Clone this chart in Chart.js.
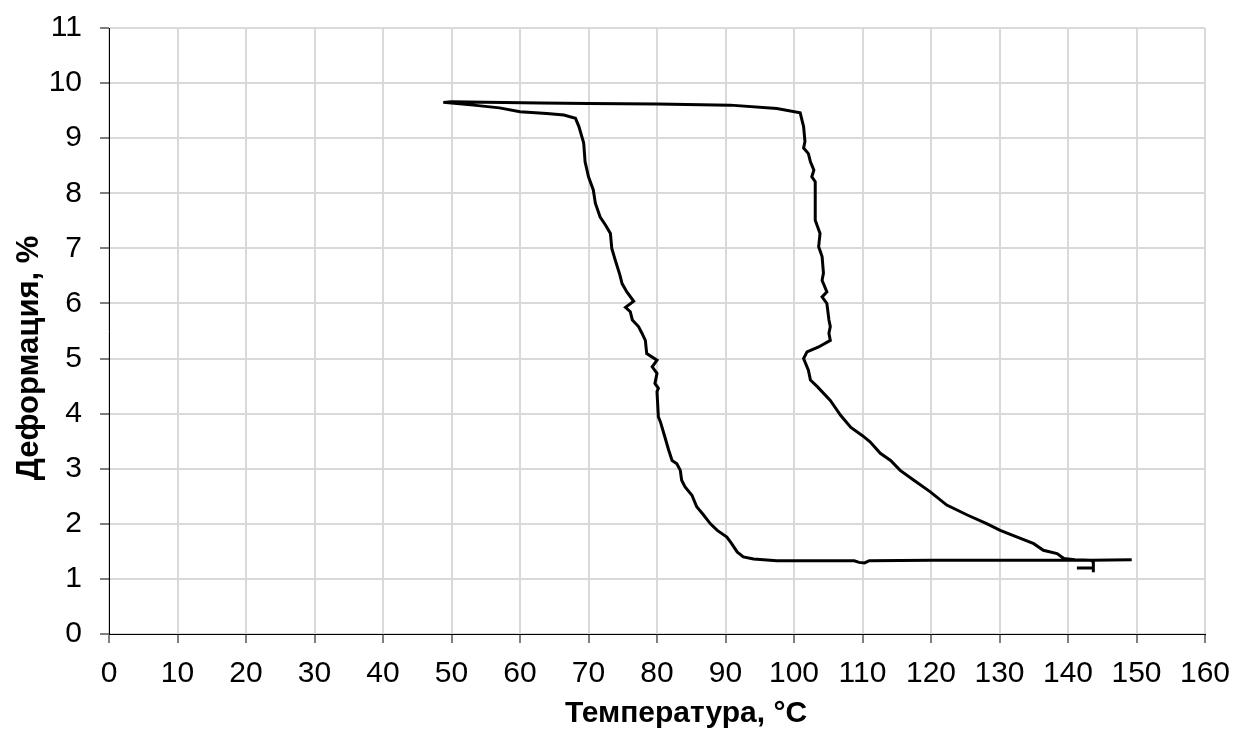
<!DOCTYPE html>
<html>
<head>
<meta charset="utf-8">
<script src="https://cdn.jsdelivr.net/npm/chart.js@4.4.1/dist/chart.umd.min.js"></script>
<style>
    html, body { margin: 0; padding: 0; background: #fff; }
    #wrap { width: 1234px; height: 733px; }
</style>
</head>
<body>
<div id="wrap"><canvas id="loopChart" width="1234" height="733"></canvas></div>
<script>
// Temperature (°C) along the measured loop, in recording order
const tempC = [
    149.3, 143.3, 130, 120, 111, 110.3, 109.5, 108.8, 102.4, 97.5, 94.1, 92.6, 91.7, 90.9, 90.2,
    88.8, 87.8, 86.8, 85.8, 85.1, 84.1, 83.6, 83.4, 82.9, 82.2, 81.7, 81.0, 80.5, 80.2, 80.0,
    80.2, 79.7, 80.0, 79.3, 80.0, 78.5, 78.3, 77.8, 77.3, 76.4, 76.1, 75.4, 76.6, 75.6, 74.9,
    74.6, 73.9, 73.4, 73.2, 72.5, 71.7, 71.0, 70.7, 70.0, 69.5, 69.3, 68.6, 68.1, 66.4, 63.9,
    60, 57, 53.2, 48.8,
    50, 55, 63, 70, 80, 90.7, 97.5, 100.9, 101.4, 101.6, 101.4, 102.1, 102.4, 102.9, 102.6,
    103.1, 103.1, 103.8, 103.6, 104.1, 104.3, 104.1, 104.8, 104.1, 104.8, 105.1, 105.3, 105.1, 105.3,
    103.6, 101.9, 101.4, 102.1, 102.4, 103.4, 105.3, 106.8, 108.3, 110.0, 111.1, 112.6, 114.1, 115.5,
    117.5, 119.9, 122.3, 125.3, 128.2, 130.1, 132.6, 135.0, 136.4, 138.4, 139.4, 141, 143.3,
    143.7, 143.7, 141.3, 143.7, 143.7
];

// Deformation (%) matching tempC
const strainPct = [
    1.35, 1.34, 1.34, 1.34, 1.33, 1.29, 1.30, 1.33, 1.33, 1.33, 1.36, 1.40, 1.49, 1.64, 1.76,
    1.88, 2.00, 2.16, 2.31, 2.52, 2.67, 2.79, 2.97, 3.09, 3.15, 3.34, 3.64, 3.85, 3.94, 4.40,
    4.46, 4.55, 4.73, 4.85, 4.97, 5.09, 5.33, 5.46, 5.58, 5.70, 5.85, 5.93, 6.04, 6.21, 6.36,
    6.51, 6.79, 7.00, 7.27, 7.42, 7.57, 7.82, 8.06, 8.30, 8.57, 8.91, 9.21, 9.36, 9.42, 9.45,
    9.48, 9.55, 9.60, 9.65,
    9.66, 9.65, 9.64, 9.63, 9.62, 9.60, 9.54, 9.46, 9.21, 8.94, 8.82, 8.72, 8.57, 8.42, 8.30,
    8.21, 7.51, 7.27, 7.03, 6.85, 6.55, 6.42, 6.21, 6.12, 6.00, 5.70, 5.58, 5.46, 5.33,
    5.21, 5.12, 5.00, 4.79, 4.61, 4.49, 4.24, 3.97, 3.75, 3.60, 3.49, 3.28, 3.15, 2.97,
    2.79, 2.58, 2.34, 2.16, 2.00, 1.88, 1.76, 1.64, 1.52, 1.46, 1.37, 1.35, 1.34,
    1.31, 1.20, 1.20, 1.20, 1.12
];

const xTicks = [0, 10, 20, 30, 40, 50, 60, 70, 80, 90, 100, 110, 120, 130, 140, 150, 160];
const yTicks = [0, 1, 2, 3, 4, 5, 6, 7, 8, 9, 10, 11];

const xTitle = 'Температура, °С';
const yTitle = 'Деформация, %';

const FONT = '"Liberation Sans", Arial, sans-serif';

function useTicks(list) {
    return function(axis) {
        axis.ticks = list.map(v => ({ value: v }));
    };
}

// axis titles are drawn by hand so they sit where the original had them
const axisTitles = {
    id: 'axisTitles',
    afterDraw(chart) {
        const ctx = chart.ctx;
        ctx.save();
        ctx.fillStyle = '#000';
        ctx.font = 'bold 30px ' + FONT;
        ctx.textAlign = 'center';
        ctx.textBaseline = 'alphabetic';
        ctx.fillText(xTitle, 686, 722);

        ctx.translate(38, 358);
        ctx.rotate(-Math.PI / 2);
        ctx.font = 'bold 31px ' + FONT;
        ctx.fillText(yTitle, 0, 0);
        ctx.restore();
    }
};

const points = tempC.map((t, i) => ({ x: t, y: strainPct[i] }));

new Chart(document.getElementById('loopChart'), {
    type: 'scatter',
    data: {
        datasets: [{
            data: points,
            showLine: true,
            borderColor: '#000',
            borderWidth: 3,
            pointRadius: 0,
            tension: 0,
            fill: false
        }]
    },
    options: {
        responsive: false,
        animation: false,
        layout: { padding: { top: 28, right: 29, bottom: 0, left: 0 } },
        plugins: {
            legend: { display: false },
            tooltip: { enabled: false }
        },
        scales: {
            x: {
                type: 'linear',
                min: 0,
                max: 160,
                afterBuildTicks: useTicks(xTicks),
                afterFit: function(scale) {
                    scale.height = 99;
                    scale.paddingLeft = 0;
                    scale.paddingRight = 0;
                },
                grid: {
                    color: '#d9d9d9',
                    lineWidth: 2,
                    tickColor: '#000',
                    tickLength: 9,
                    tickWidth: 1
                },
                border: { color: '#000', width: 1 },
                ticks: {
                    color: '#000',
                    font: { family: FONT, size: 30 },
                    padding: 13,
                    maxRotation: 0,
                    autoSkip: false
                }
            },
            y: {
                type: 'linear',
                min: 0,
                max: 11,
                afterBuildTicks: useTicks(yTicks),
                afterFit: function(scale) {
                    scale.width = 109;
                    scale.paddingTop = 0;
                    scale.paddingBottom = 0;
                },
                grid: {
                    color: '#d9d9d9',
                    lineWidth: 2,
                    tickColor: '#000',
                    tickLength: 9,
                    tickWidth: 1
                },
                border: { color: '#000', width: 1 },
                ticks: {
                    color: '#000',
                    font: { family: FONT, size: 30 },
                    padding: 18,
                    autoSkip: false
                }
            }
        }
    },
    plugins: [axisTitles]
});
</script>
</body>
</html>
